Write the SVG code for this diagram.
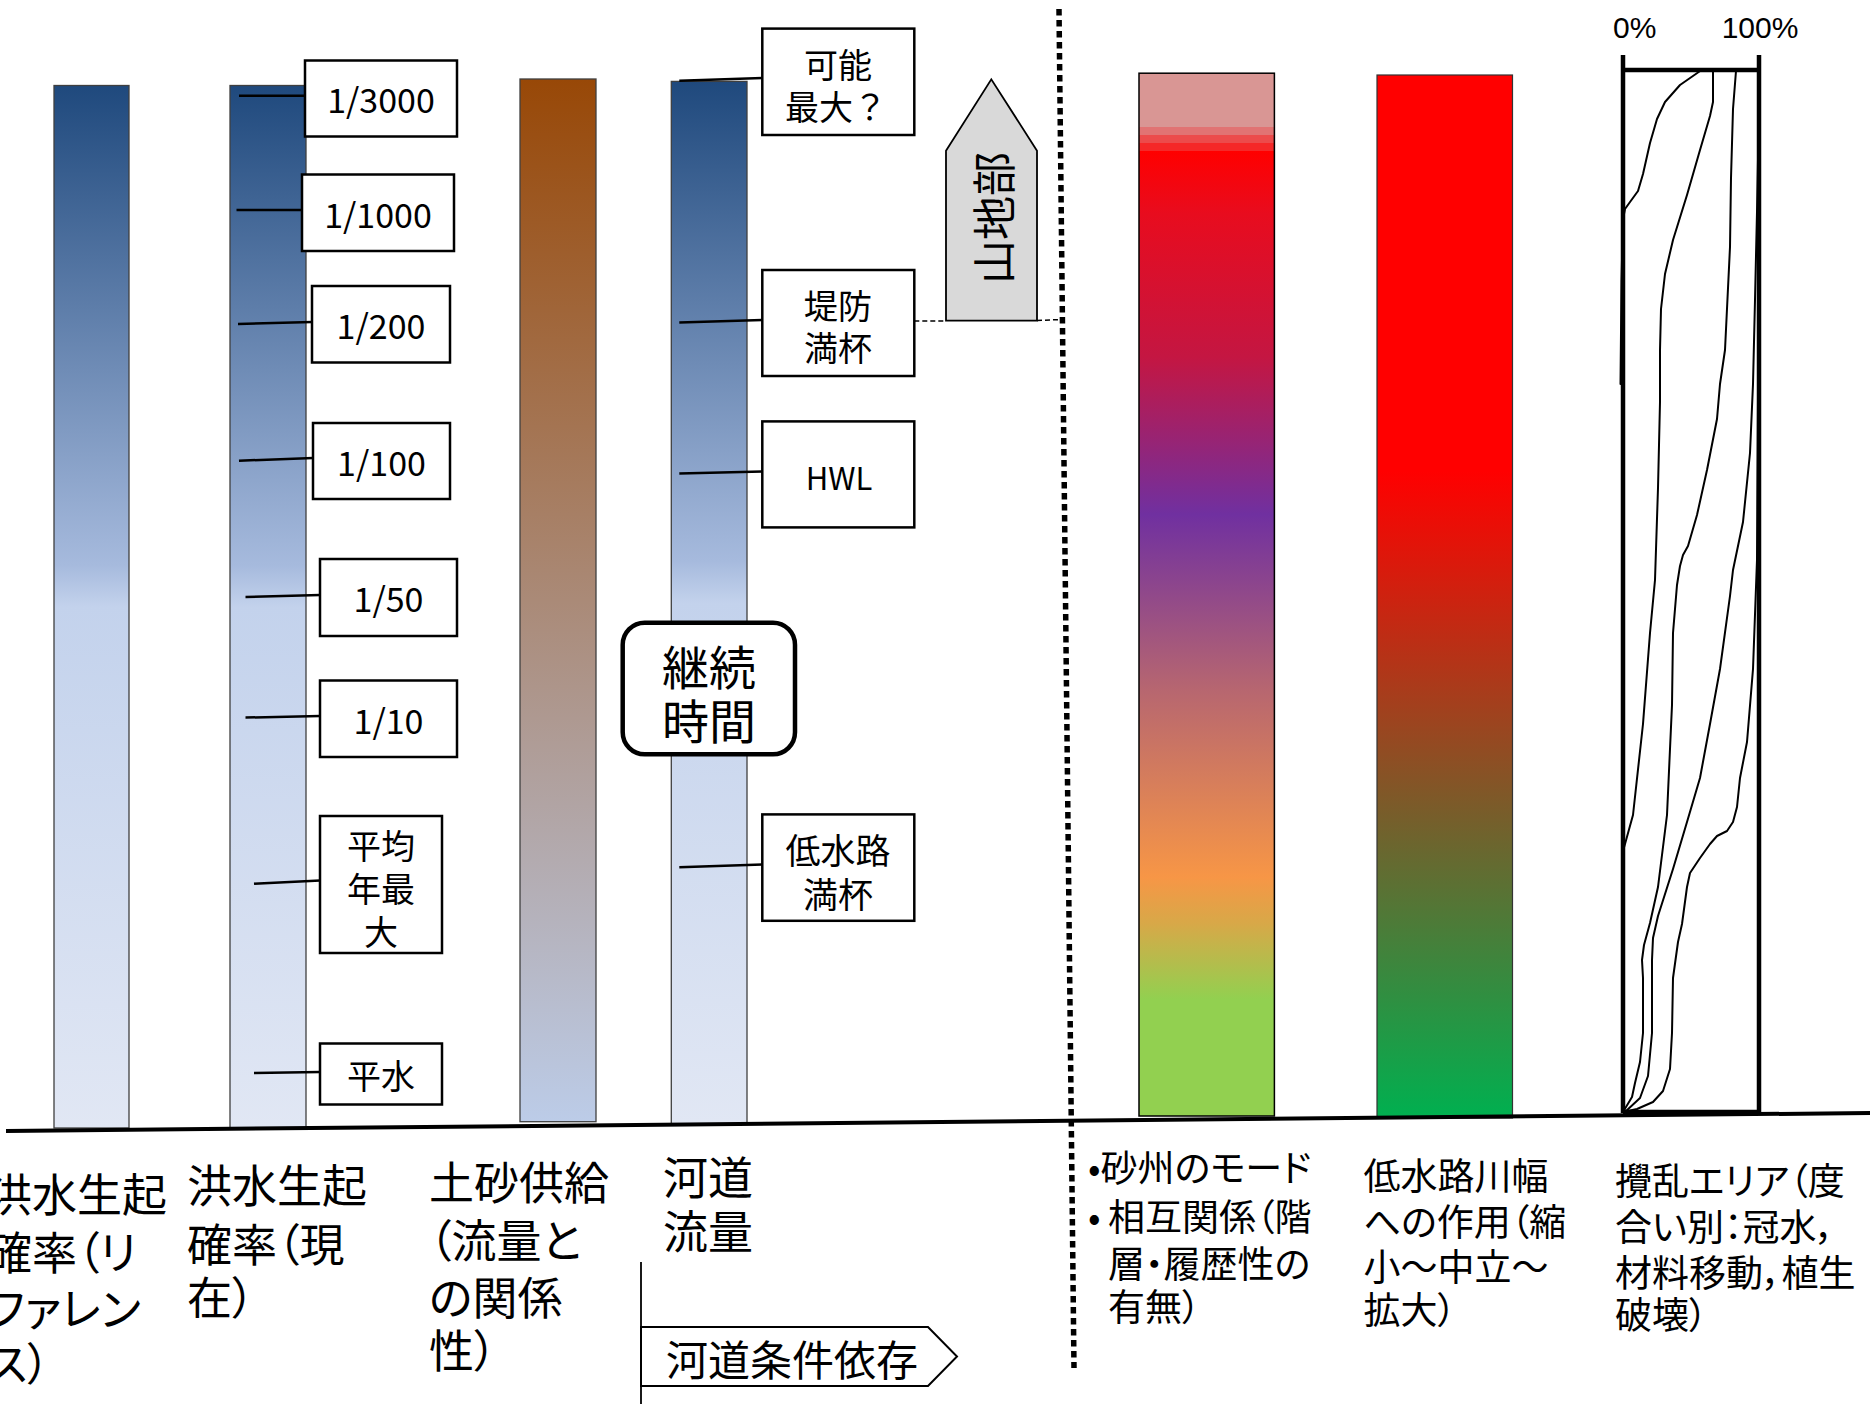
<svg xmlns="http://www.w3.org/2000/svg" width="1870" height="1404" viewBox="0 0 1870 1404">
<style>
.bar{stroke:#3f3f3f;stroke-width:1.3}
.lbl{fill:#fff;stroke:#000;stroke-width:2.5}
.tick{stroke:#000;stroke-width:2.5;fill:none}
.t{font-family:"Noto Sans CJK JP","Noto Sans",sans-serif;fill:#000}
.bt{font-family:"Noto Sans CJK JP",sans-serif;fill:#000;font-feature-settings:"palt" 1;dominant-baseline:central}
.c{fill:none;stroke:#000;stroke-width:2;stroke-linejoin:round;stroke-linecap:round}
.edge{stroke:#000;stroke-width:4.5;fill:none}
</style>
<defs>
<linearGradient id="blue" x1="0" y1="0" x2="0" y2="1">
<stop offset="0" stop-color="#1f497d"/>
<stop offset="0.46" stop-color="#a6badd"/>
<stop offset="0.5" stop-color="#c3d2ec"/>
<stop offset="1" stop-color="#e1e7f4"/>
</linearGradient>
<linearGradient id="brown" x1="0" y1="0" x2="0" y2="1">
<stop offset="0" stop-color="#984807"/>
<stop offset="1" stop-color="#bccce8"/>
</linearGradient>
<linearGradient id="multi" x1="0" y1="0" x2="0" y2="1">
<stop offset="0" stop-color="#d99694"/>
<stop offset="0.0518" stop-color="#d99694"/>
<stop offset="0.0518" stop-color="#e17373"/>
<stop offset="0.0594" stop-color="#e17373"/>
<stop offset="0.0594" stop-color="#ec4b4b"/>
<stop offset="0.0671" stop-color="#ec4b4b"/>
<stop offset="0.0671" stop-color="#f52828"/>
<stop offset="0.0748" stop-color="#f52828"/>
<stop offset="0.0748" stop-color="#ff0000"/>
<stop offset="0.135" stop-color="#e80c1e"/>
<stop offset="0.272" stop-color="#c41642"/>
<stop offset="0.423" stop-color="#7030a0"/>
<stop offset="0.594" stop-color="#b8676f"/>
<stop offset="0.771" stop-color="#f79646"/>
<stop offset="0.815" stop-color="#d8a848"/>
<stop offset="0.888" stop-color="#92d050"/>
<stop offset="1" stop-color="#92d050"/>
</linearGradient>
<linearGradient id="rg" x1="0" y1="0" x2="0" y2="1">
<stop offset="0" stop-color="#ff0000"/>
<stop offset="0.38" stop-color="#ff0000"/>
<stop offset="1" stop-color="#00b050"/>
</linearGradient>
</defs>

<g id="bar-reference"><rect class="bar" x="54" y="85.5" width="75" height="1042.5" fill="url(#blue)"/></g>
<g id="bar-current"><rect class="bar" x="230" y="85.5" width="76" height="1043.5" fill="url(#blue)"/></g>
<g id="bar-sediment"><rect class="bar" x="520" y="79" width="76" height="1042.7" fill="url(#brown)"/></g>
<g id="bar-discharge"><rect class="bar" x="671.3" y="81.4" width="75.7" height="1043" fill="url(#blue)"/></g>
<g id="bar-bar-mode"><rect x="1139" y="73.2" width="135.4" height="1042.8" fill="url(#multi)" stroke="#000" stroke-width="1.5"/></g>
<g id="bar-lowflow"><rect x="1377" y="75" width="135.5" height="1043" fill="url(#rg)" stroke="#333" stroke-width="1.2"/></g>

<g id="connectors">
<line class="tick" x1="239" y1="95.7" x2="305" y2="95.7"/>
<line class="tick" x1="236.5" y1="210" x2="302" y2="210"/>
<line class="tick" x1="238" y1="324" x2="312" y2="322"/>
<line class="tick" x1="239" y1="460.7" x2="313" y2="458"/>
<line class="tick" x1="245.5" y1="597" x2="320" y2="595"/>
<line class="tick" x1="245.5" y1="717.6" x2="320" y2="716"/>
<line class="tick" x1="254" y1="883.7" x2="320" y2="880.6"/>
<line class="tick" x1="254" y1="1073" x2="320" y2="1072"/>
<line class="tick" x1="679.3" y1="80.7" x2="762.3" y2="77.9"/>
<line class="tick" x1="679.3" y1="322.5" x2="762.3" y2="320"/>
<line class="tick" x1="679.3" y1="473.6" x2="762.3" y2="471.4"/>
<line class="tick" x1="679.3" y1="867.2" x2="762.3" y2="864.5"/>
<line x1="914.3" y1="321" x2="946" y2="321" stroke="#000" stroke-width="1.5" stroke-dasharray="5 3"/>
<line x1="1037" y1="320.5" x2="1062" y2="319.5" stroke="#000" stroke-width="1.5" stroke-dasharray="5 3"/>
<line x1="1059" y1="9" x2="1074" y2="1368" stroke="#000" stroke-width="5.5" stroke-dasharray="6.5 4.5"/>
<line x1="6" y1="1131" x2="1870" y2="1113" stroke="#000" stroke-width="4"/>
<line x1="641" y1="1262" x2="641" y2="1404" stroke="#000" stroke-width="1.8"/>
</g>

<g id="n-3000"><rect class="lbl" x="305" y="60.5" width="152" height="76"/><text class="t" x="381" y="98.5" font-size="34" text-anchor="middle" dominant-baseline="central">1/3000</text></g>
<g id="n-1000"><rect class="lbl" x="302" y="174.5" width="152" height="76.5"/><text class="t" x="378" y="213" font-size="34" text-anchor="middle" dominant-baseline="central">1/1000</text></g>
<g id="n-200"><rect class="lbl" x="312" y="286" width="138" height="76.5"/><text class="t" x="381" y="324" font-size="34" text-anchor="middle" dominant-baseline="central">1/200</text></g>
<g id="n-100"><rect class="lbl" x="313" y="423" width="137" height="76"/><text class="t" x="381.5" y="461" font-size="34" text-anchor="middle" dominant-baseline="central">1/100</text></g>
<g id="n-50"><rect class="lbl" x="320" y="559" width="137" height="77"/><text class="t" x="388.5" y="597.5" font-size="34" text-anchor="middle" dominant-baseline="central">1/50</text></g>
<g id="n-10"><rect class="lbl" x="320" y="680.5" width="137" height="76.5"/><text class="t" x="388.5" y="719" font-size="34" text-anchor="middle" dominant-baseline="central">1/10</text></g>
<g id="n-annual"><rect class="lbl" x="320" y="816" width="122" height="137"/>
<text class="t" x="381" font-size="34" text-anchor="middle" dominant-baseline="central"><tspan x="381" y="844">平均</tspan><tspan x="381" y="887">年最</tspan><tspan x="381" y="930">大</tspan></text></g>
<g id="n-normal"><rect class="lbl" x="320" y="1043.5" width="122" height="61"/><text class="t" x="381" y="1074" font-size="34" text-anchor="middle" dominant-baseline="central">平水</text></g>

<g id="n-pmf"><rect class="lbl" x="762.3" y="28.6" width="152" height="106.4"/>
<text class="t" font-size="34" text-anchor="middle" dominant-baseline="central"><tspan x="838" y="62.5">可能</tspan><tspan x="836" y="105">最大？</tspan></text></g>
<g id="n-levee"><rect class="lbl" x="762.3" y="270" width="152" height="106"/>
<text class="t" font-size="34" text-anchor="middle" dominant-baseline="central"><tspan x="838" y="303.6">堤防</tspan><tspan x="838" y="346.4">満杯</tspan></text></g>
<g id="n-hwl"><rect class="lbl" x="762.3" y="421.4" width="152" height="106"/><text class="t" x="839" y="476.8" font-size="31" text-anchor="middle" dominant-baseline="central">HWL</text></g>
<g id="n-lowchannel"><rect class="lbl" x="762.3" y="814.4" width="152" height="106.4"/>
<text class="t" font-size="35" text-anchor="middle" dominant-baseline="central"><tspan x="838" y="848">低水路</tspan><tspan x="838" y="892">満杯</tspan></text></g>

<g id="n-duration"><rect x="622.7" y="622.7" width="172.3" height="131.6" rx="22" fill="#fff" stroke="#000" stroke-width="4.5"/>
<text class="t" font-size="47" text-anchor="middle" dominant-baseline="central"><tspan x="709" y="664">継続</tspan><tspan x="709" y="718">時間</tspan></text></g>

<g id="n-mountain"><polygon points="946,150.7 991.3,79.3 1037,150.7 1037,320.7 946,320.7" fill="#d9d9d9" stroke="#000" stroke-width="1.8"/>
<text class="t" x="991.5" y="218" font-size="44" text-anchor="middle" dominant-baseline="central" transform="rotate(-90 991.5 218)">山地部</text></g>

<g id="n-channel-dep"><polygon points="641,1327 928,1327 957,1356.5 928,1386 641,1386" fill="#fff" stroke="#000" stroke-width="2"/>
<text class="bt" x="666" y="1357" font-size="42">河道条件依存</text></g>

<g id="n-chart">
<text x="1634.7" y="37.5" font-family="Liberation Sans, Arial, sans-serif" font-size="30" text-anchor="middle">0%</text>
<text x="1760" y="37.5" font-family="Liberation Sans, Arial, sans-serif" font-size="30" text-anchor="middle">100%</text>
<line class="edge" x1="1623" y1="55" x2="1623" y2="1113"/>
<line class="edge" x1="1759" y1="55" x2="1759" y2="1113"/>
<line class="edge" x1="1623" y1="70" x2="1759" y2="70"/>
<line class="edge" x1="1623" y1="1112" x2="1759" y2="1112"/>
<polyline class="c" points="1703,69 1680,85 1665,102 1657,119 1650,143 1643,174 1638,191 1630,202 1625,209 1623,219 1621.5,281 1620.5,384"/>
<polyline class="c" points="1713,69 1713,102 1710,116 1700,150 1687,195 1673,240 1665,274 1661,309 1660,350 1660,402 1658,488 1655,580 1650,633 1643,724 1633,815 1625,844 1623,851"/>
<polyline class="c" points="1736,71 1733,109 1731,178 1730,247 1725,350 1720,384 1717,419 1707,470 1697,515 1688,546 1683,555 1680,566 1677,585 1673,633 1672,705 1667,815 1658,887 1650,923 1644,945 1642,960 1643,978 1643,1033 1640,1062 1635,1083 1632,1097 1623,1112"/>
<polyline class="c" points="1759,110 1758,160 1757,212 1755,300 1753,384 1750,453 1743,522 1733,570 1730,596 1720,669 1710,724 1700,778 1687,822 1673,869 1658,916 1653,938 1652,960 1652,978 1652,1033 1648,1076 1640,1098 1625,1112"/>
<polyline class="c" points="1759,150 1758,400 1757,560 1753,669 1747,742 1740,778 1737,807 1733,822 1727,831 1717,836 1710,844 1700,858 1690,873 1687,887 1682,924 1678,942 1673,978 1672,1033 1670,1069 1663,1091 1653,1102 1637,1109 1623,1112"/>
</g>

<g id="label-reference"><text class="bt" font-size="45"><tspan x="-13" y="1192">洪水生起</tspan><tspan x="-13" y="1250">確率（リ</tspan><tspan x="-13" y="1306">ファレン</tspan><tspan x="-13" y="1361">ス）</tspan></text></g>
<g id="label-current"><text class="bt" font-size="45"><tspan x="187" y="1183">洪水生起</tspan><tspan x="187" y="1242">確率（現</tspan><tspan x="187" y="1295">在）</tspan></text></g>
<g id="label-sediment"><text class="bt" font-size="45"><tspan x="429" y="1180">土砂供給</tspan><tspan x="429" y="1238">（流量と</tspan><tspan x="429" y="1295">の関係</tspan><tspan x="429" y="1348">性）</tspan></text></g>
<g id="label-discharge"><text class="bt" font-size="45"><tspan x="663" y="1175">河道</tspan><tspan x="663" y="1229">流量</tspan></text></g>
<g id="label-bar-mode"><text class="bt" font-size="37"><tspan x="1088" y="1166">•砂州のモード</tspan><tspan x="1088" y="1215">•</tspan><tspan x="1108" y="1215">相互関係（階</tspan><tspan x="1108" y="1262">層・履歴性の</tspan><tspan x="1108" y="1305">有無）</tspan></text></g>
<g id="label-lowflow"><text class="bt" font-size="37"><tspan x="1363.5" y="1174">低水路川幅</tspan><tspan x="1363.5" y="1220">への作用（縮</tspan><tspan x="1363.5" y="1265">小～中立～</tspan><tspan x="1363.5" y="1308">拡大）</tspan></text></g>
<g id="label-disturb"><text class="bt" font-size="37"><tspan x="1615" y="1179">攪乱エリア（度</tspan><tspan x="1615" y="1225">合い別：冠水，</tspan><tspan x="1615" y="1271">材料移動，植生</tspan><tspan x="1615" y="1313">破壊）</tspan></text></g>
</svg>
